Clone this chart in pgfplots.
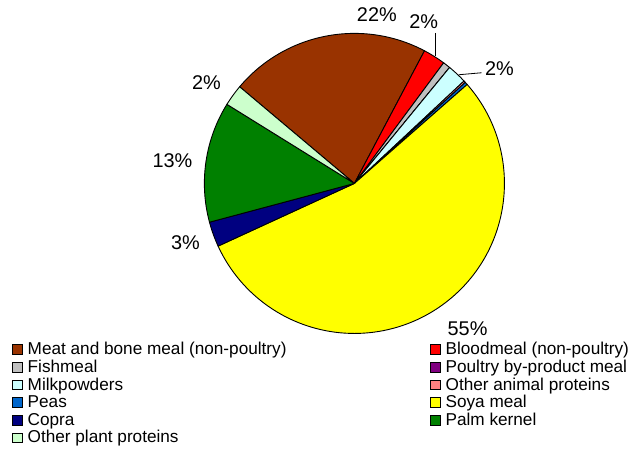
\documentclass[border=0pt]{standalone}
\usepackage{fontspec}
\setmainfont{Liberation Sans}
\usepackage{pgfplots}
\usepackage{pgfplotstable}
\pgfplotsset{compat=1.18}

\definecolor{meat}{HTML}{993300}
\definecolor{blood}{HTML}{FF0000}
\definecolor{fish}{HTML}{C0C0C0}
\definecolor{poultry}{HTML}{800080}
\definecolor{milk}{HTML}{CCFFFF}
\definecolor{otheranimal}{HTML}{FF8080}
\definecolor{peas}{HTML}{0066CC}
\definecolor{soya}{HTML}{FFFF00}
\definecolor{copra}{HTML}{000080}
\definecolor{palm}{HTML}{008000}
\definecolor{otherplant}{HTML}{CCFFCC}

% shares in percent, clockwise from the first slice
\pgfplotstableread[col sep=comma]{
name,share,col
Meat and bone meal (non-poultry),21.6,meat
Bloodmeal (non-poultry),2.4,blood
Fishmeal,0.8,fish
Poultry by-product meal,0,poultry
Milkpowders,2.1,milk
Other animal proteins,0.2,otheranimal
Peas,0.3,peas
Soya meal,54.6,soya
Copra,2.7,copra
Palm kernel,13.0,palm
Other plant proteins,2.3,otherplant
}\piedata

\newcommand\lbl{\fontsize{20}{23}\selectfont}

\begin{document}
\begin{tikzpicture}
\begin{axis}[
  hide axis, clip=false,
  x=1bp, y=1bp,
  xmin=-355.5, xmax=275.5, ymin=-270, ymax=184,
  legend columns=2, legend cell align=left,
  legend style={at={(axis description cs:0.019,0.245)}, anchor=north west,
    draw=none, fill=none, inner sep=0pt, row sep=0pt,
    font=\fontsize{17.3}{19}\selectfont,
    nodes={inner xsep=2bp, inner ysep=1bp, text height=11.9bp, text depth=3.8bp},
    /tikz/every odd column/.style={column sep=3.5bp},
    /tikz/column 2/.style={column sep=142bp}},
  legend image code/.code={\draw[#1, line width=0.6bp] (0bp,-3.5bp) rectangle (9.5bp,6bp);},
]
\path (rel axis cs:0,0) rectangle (rel axis cs:1,1);
\def\angstart{139.9}
\pgfplotsinvokeforeach{0,...,10}{%
  \pgfplotstablegetelem{#1}{share}\of\piedata \let\sh\pgfplotsretval
  \pgfplotstablegetelem{#1}{col}\of\piedata \let\cc\pgfplotsretval
  \pgfplotstablegetelem{#1}{name}\of\piedata \let\nm\pgfplotsretval
  \pgfmathsetmacro{\angend}{\angstart-3.6*\sh}
  \edef\tmp{\noexpand\filldraw[fill=\cc, draw=black, line width=0.9bp]
    (axis cs:0,0) -- ++(\angstart:150.5bp)
    arc[start angle=\angstart, end angle=\angend, radius=150.5bp] -- cycle;
    \noexpand\addlegendimage{fill=\cc, draw=black}
    \noexpand\addlegendentry{\nm}}%
  \tmp
  \global\let\angstart\angend
}
% data labels
\node[font=\lbl] at (axis cs:22.5,169) {22\%};
\node[font=\lbl] at (axis cs:69.5,162) {2\%};
\draw[line width=0.8bp] (axis cs:81.5,151) -- (axis cs:81.5,128);
\node[font=\lbl] at (axis cs:145.5,115) {2\%};
\draw[line width=0.8bp] (axis cs:104.5,109) -- (axis cs:127.5,111);
\node[font=\lbl] at (axis cs:-148.5,101) {2\%};
\node[font=\lbl] at (axis cs:-182.5,23) {13\%};
\node[font=\lbl] at (axis cs:-169.5,-59) {3\%};
\node[font=\lbl] at (axis cs:113.5,-146) {55\%};
\end{axis}
\end{tikzpicture}
\end{document}
